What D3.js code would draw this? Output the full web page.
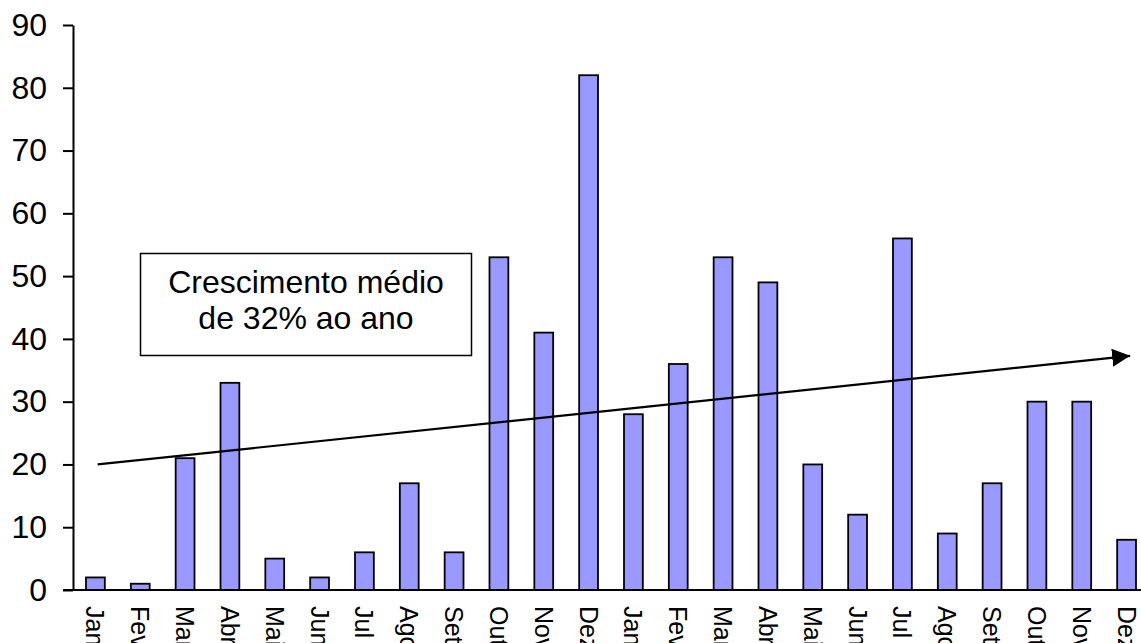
<!DOCTYPE html>
<html>
<head>
<meta charset="utf-8">
<script src="https://cdn.jsdelivr.net/npm/d3@7"></script>
<style>
	body { margin: 0; background: #fff; }
	svg { display: block; font-family: "Liberation Sans", Arial, sans-serif; }
</style>
</head>
<body>
<svg id="chart"></svg>
<script>
// months of two years
const months = ["Jan", "Fev", "Mar", "Abr", "Mai", "Jun", "Jul", "Ago", "Set", "Out", "Nov", "Dez",
	"Jan", "Fev", "Mar", "Abr", "Mai", "Jun", "Jul", "Ago", "Set", "Out", "Nov", "Dez"];
const values = [2, 1, 21, 33, 5, 2, 6, 17, 6, 53, 41, 82,
	28, 36, 53, 49, 20, 12, 56, 9, 17, 30, 30, 8];
const yTicks = [0, 10, 20, 30, 40, 50, 60, 70, 80, 90];
// trend arrow, as [bar index, value]
const trendStart = [0.05, 20];
const trendEnd = [23.08, 37.3];
const noteLines = ["Crescimento médio", "de 32% ao ano"];

function whenDocumentLoaded(action) {
	if (document.readyState === "loading") {
		document.addEventListener("DOMContentLoaded", action);
	} else {
		action();
	}
}

whenDocumentLoaded(() => {
	const width = 1141, height = 643;
	const left = 73, right = 1149, top = 25, bottom = 590;

	const svg = d3.select("#chart")
		.attr("width", width)
		.attr("height", height);

	const keys = months.map((m, i) => i);
	const x = d3.scaleBand()
		.domain(keys)
		.range([left, right])
		.paddingInner(0.58)
		.paddingOuter(0.29);
	const y = d3.scaleLinear()
		.domain([0, 90])
		.range([bottom, top]);
	// index -> center of bar
	const xi = d3.scaleLinear()
		.domain([0, 1])
		.range([x(0) + x.bandwidth() / 2, x(1) + x.bandwidth() / 2]);

	// bars
	svg.append("g")
		.selectAll("rect")
		.data(values)
		.join("rect")
		.attr("x", (d, i) => x(i))
		.attr("y", d => y(d))
		.attr("width", x.bandwidth())
		.attr("height", d => bottom - y(d))
		.attr("fill", "#9999ff")
		.attr("stroke", "#000")
		.attr("stroke-width", 1.8);

	// y axis
	const yAxis = svg.append("g")
		.attr("transform", `translate(${left},0)`)
		.call(d3.axisLeft(y).tickValues(yTicks).tickSize(10).tickPadding(16).tickSizeOuter(0));
	yAxis.select(".domain").attr("stroke-width", 2);
	yAxis.selectAll(".tick line").attr("stroke-width", 2);
	yAxis.selectAll(".tick text")
		.attr("font-size", 32)
		.attr("font-family", "Liberation Sans, Arial, sans-serif")
		.attr("fill", "#000");

	// x axis
	const xAxis = svg.append("g")
		.attr("transform", `translate(0,${bottom})`)
		.call(d3.axisBottom(x).tickSize(0).tickFormat(i => months[i]));
	xAxis.select(".domain").remove();
	svg.append("line")
		.attr("x1", left - 10)
		.attr("x2", width)
		.attr("y1", bottom)
		.attr("y2", bottom)
		.attr("stroke", "#000")
		.attr("stroke-width", 2);
	xAxis.selectAll(".tick text")
		.attr("font-size", 25)
		.attr("font-family", "Liberation Sans, Arial, sans-serif")
		.attr("fill", "#000")
		.attr("text-anchor", "start")
		.attr("dominant-baseline", "central")
		.attr("dy", null)
		.attr("y", 0)
		.attr("transform", "translate(0,16) rotate(90)");

	// trend arrow
	svg.append("defs").append("marker")
		.attr("id", "head")
		.attr("viewBox", "0 0 10 10")
		.attr("refX", 10)
		.attr("refY", 5)
		.attr("markerWidth", 18)
		.attr("markerHeight", 18)
		.attr("markerUnits", "userSpaceOnUse")
		.attr("orient", "auto")
		.append("path")
		.attr("d", "M0,0L10,5L0,10Z")
		.attr("fill", "#000");
	svg.append("line")
		.attr("x1", xi(trendStart[0]))
		.attr("y1", y(trendStart[1]))
		.attr("x2", xi(trendEnd[0]))
		.attr("y2", y(trendEnd[1]))
		.attr("stroke", "#000")
		.attr("stroke-width", 2.2)
		.attr("marker-end", "url(#head)");

	// note box
	const note = svg.append("g");
	note.append("rect")
		.attr("x", 140.5)
		.attr("y", 253.5)
		.attr("width", 331)
		.attr("height", 102)
		.attr("fill", "#fff")
		.attr("stroke", "#000")
		.attr("stroke-width", 1.5);
	note.selectAll("text")
		.data(noteLines)
		.join("text")
		.attr("x", 306)
		.attr("y", (d, i) => 293 + i * 36)
		.attr("text-anchor", "middle")
		.attr("font-size", 32)
		.attr("fill", "#000")
		.text(d => d);
});
</script>
</body>
</html>
